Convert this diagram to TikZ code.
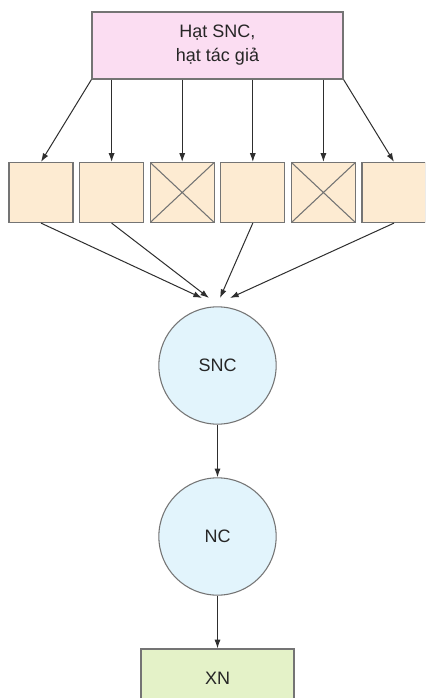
\documentclass[tikz,border=0pt]{standalone}
\usepackage{fontspec}
\setmainfont{Liberation Sans}
\usetikzlibrary{arrows.meta}
\definecolor{edgegray}{HTML}{747474}
\definecolor{linedark}{HTML}{2E2E2E}
\definecolor{pinkfill}{HTML}{FBDDF2}
\definecolor{peachfill}{HTML}{FDEBD2}
\definecolor{bluefill}{HTML}{E2F4FC}
\definecolor{greenfill}{HTML}{E4F2C8}
\tikzset{
  lbl/.style={font=\fontsize{13.5pt}{18pt}\selectfont, text=black!85},
  topbox/.style={lbl, draw=edgegray, line width=0.9pt, fill=pinkfill,
    minimum width=188.25pt, minimum height=50.25pt, align=center, inner sep=0pt},
  cell/.style={draw=edgegray, line width=0.9pt, fill=peachfill,
    minimum width=48pt, minimum height=45pt, inner sep=0pt},
  crossed/.style={cell, path picture={
    \draw[edgegray, line width=0.8pt]
      (path picture bounding box.north west) -- (path picture bounding box.south east)
      (path picture bounding box.south west) -- (path picture bounding box.north east);}},
  stage/.style={lbl, circle, draw=edgegray, line width=0.8pt, fill=bluefill,
    minimum size=88pt, inner sep=0pt},
  endbox/.style={lbl, draw=edgegray, line width=0.9pt, fill=greenfill,
    minimum width=114.75pt, minimum height=43.5pt, inner sep=0pt},
  arr/.style={draw=linedark, line width=0.75pt, -{Latex[length=6.5pt,width=4.5pt]}}
}
\begin{document}
\begin{tikzpicture}[x=0.75pt, y=-0.75pt]
  \clip (0,0) rectangle (425,698);
  \fill[white] (0,0) rectangle (425,698);

  % source box
  \node[topbox] (src) at (217.5,45.5) {Hạt SNC,\\hạt tác giả};

  % row of cells
  \node[cell]    (c1) at (41,192.5)  {};
  \node[cell]    (c2) at (111.6,192.5) {};
  \node[crossed] (c3) at (182.2,192.5) {};
  \node[cell]    (c4) at (252.8,192.5) {};
  \node[crossed] (c5) at (323.4,192.5) {};
  \node[cell]    (c6) at (394,192.5) {};

  % stages
  \node[stage]  (snc) at (217.5,365.5) {SNC};
  \node[stage]  (nc)  at (217.5,536.5) {NC};
  \node[endbox] (xn)  at (217.5,678)   {XN};

  % source to cells
  \draw[arr] (src.south west) -- (c1.north);
  \draw[arr] (c2.north |- src.south) -- (c2.north);
  \draw[arr] (c3.north |- src.south) -- (c3.north);
  \draw[arr] (c4.north |- src.south) -- (c4.north);
  \draw[arr] (c5.north |- src.south) -- (c5.north);
  \draw[arr] (src.south east) -- (c6.north);

  % cells converging on SNC
  \coordinate (m1) at (202,298);
  \coordinate (m2) at (209,298);
  \coordinate (m4) at (220,298);
  \coordinate (m6) at (230,298);
  \draw[arr] (c1.south) -- (m1);
  \draw[arr] (c2.south) -- (m2);
  \draw[arr] (c4.south) -- (m4);
  \draw[arr] (c6.south) -- (m6);

  % chain
  \draw[arr] (snc.south) -- (nc.north);
  \draw[arr] (nc.south) -- (xn.north);
\end{tikzpicture}
\end{document}
